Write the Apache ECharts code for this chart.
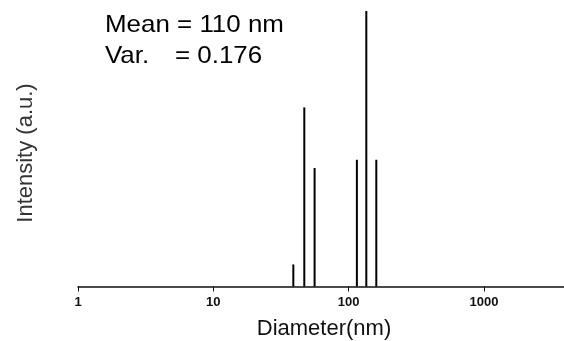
<!DOCTYPE html>
<html>
<head>
<meta charset="utf-8">
<script src="https://cdn.jsdelivr.net/npm/echarts@6/dist/echarts.min.js"></script>
<style>
  html, body { margin: 0; padding: 0; background: #fff; }
  #chart { width: 564px; height: 341px; }
</style>
</head>
<body>
<div id="chart"></div>
<script>
// Particle size distribution: discrete intensity peaks vs. diameter (log scale)
const diameters = [39, 47, 56, 115, 135, 160];      // nm
const intensities = [8, 65, 43, 46, 100, 46];        // a.u.
const xTicks = [1, 10, 100, 1000];

const FONT = '"Liberation Sans", Arial, sans-serif';
const STAT_FONT = '24px ' + FONT;

const chart = echarts.init(document.getElementById('chart'), null, { renderer: 'canvas' });

// statistics annotation pieces (slightly widened lettering)
function statText(str, x, y) {
  return {
    type: 'text', x: x, y: y, scaleX: 1.08,
    style: { text: str, font: STAT_FONT, fill: '#000' }
  };
}

chart.setOption({
  animation: false,
  backgroundColor: '#fff',
  grid: { left: 78, right: 0, top: 11, bottom: 54.5 },
  xAxis: {
    type: 'log',
    logBase: 10,
    min: 1,
    max: 3900,
    axisLine: { show: true, lineStyle: { color: '#111', width: 1.5 } },
    axisTick: { show: true, length: 5, lineStyle: { color: '#111', width: 1 } },
    minorTick: { show: false },
    splitLine: { show: false },
    axisLabel: {
      margin: 9,
      fontFamily: FONT,
      fontSize: 13,
      fontWeight: 'bold',
      color: '#111',
      showMaxLabel: false,
      formatter: function (v) {
        return xTicks.indexOf(Math.round(v)) >= 0 ? String(Math.round(v)) : '';
      }
    }
  },
  yAxis: {
    type: 'value',
    min: 0,
    max: 100,
    show: false
  },
  series: [{
    type: 'custom',
    data: diameters.map((d, i) => [d, intensities[i]]),
    renderItem: function (params, api) {
      const x = api.value(0);
      const y = api.value(1);
      const base = api.coord([x, 0]);
      const top = api.coord([x, y]);
      return {
        type: 'line',
        shape: { x1: base[0], y1: base[1], x2: top[0], y2: top[1] },
        style: { stroke: '#000', lineWidth: 2 }
      };
    }
  }],
  graphic: [
    statText('Mean = 110 nm', 105, 13),
    statText('Var.', 105, 44),
    statText('= 0.176', 175, 44),
    {
      type: 'text', x: 26, y: 153, rotation: Math.PI / 2,
      style: {
        text: 'Intensity (a.u.)', font: '22px ' + FONT, fill: '#333',
        align: 'center', verticalAlign: 'middle'
      }
    },
    {
      type: 'text', x: 324, y: 329,
      style: {
        text: 'Diameter(nm)', font: '22px ' + FONT, fill: '#111',
        align: 'center', verticalAlign: 'middle'
      }
    }
  ]
});
</script>
</body>
</html>
